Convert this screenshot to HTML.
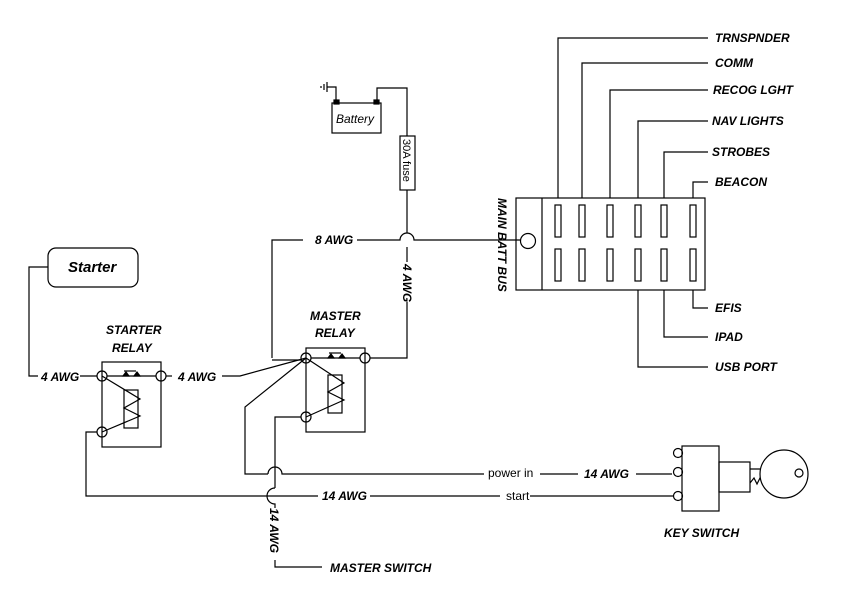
<!DOCTYPE html>
<html><head><style>
html,body{margin:0;padding:0;background:#fff;}
svg{display:block;}
text{font-family:"Liberation Sans",sans-serif;fill:#000;}
.b{font-weight:bold;font-style:italic;font-size:12px;}
</style></head><body>
<svg width="852" height="604" viewBox="0 0 852 604" xmlns="http://www.w3.org/2000/svg" fill="none" stroke="#000" stroke-width="1.2">
<g>
<polyline points="558,198 558,38 708,38"/>
<polyline points="582,198 582,63 708,63"/>
<polyline points="610,198 610,90 708,90"/>
<polyline points="638,198 638,121 708,121"/>
<polyline points="664,198 664,152 708,152"/>
<polyline points="693,198 693,182 708,182"/>
<polyline points="693,290 693,308 708,308"/>
<polyline points="664,290 664,337 708,337"/>
<polyline points="638,290 638,367 708,367"/>
</g>
<g stroke="none">
<text class="b" x="715" y="42">TRNSPNDER</text>
<text class="b" x="715" y="67">COMM</text>
<text class="b" x="713" y="94">RECOG LGHT</text>
<text class="b" x="712" y="125">NAV LIGHTS</text>
<text class="b" x="712" y="156">STROBES</text>
<text class="b" x="715" y="186">BEACON</text>
<text class="b" x="715" y="312">EFIS</text>
<text class="b" x="715" y="341">IPAD</text>
<text class="b" x="715" y="371">USB PORT</text>
</g>
<rect x="516" y="198" width="189" height="92"/>
<line x1="542" y1="198" x2="542" y2="290"/>
<circle cx="528" cy="241" r="7.5"/>
<g>
<rect x="555" y="205" width="6" height="32"/><rect x="579" y="205" width="6" height="32"/><rect x="607" y="205" width="6" height="32"/><rect x="635" y="205" width="6" height="32"/><rect x="661" y="205" width="6" height="32"/><rect x="690" y="205" width="6" height="32"/>
<rect x="555" y="249" width="6" height="32"/><rect x="579" y="249" width="6" height="32"/><rect x="607" y="249" width="6" height="32"/><rect x="635" y="249" width="6" height="32"/><rect x="661" y="249" width="6" height="32"/><rect x="690" y="249" width="6" height="32"/>
</g>
<text class="b" stroke="none" transform="translate(498,198) rotate(90)">MAIN BATT BUS</text>
<polyline points="272,358 272,240 303,240"/>
<path d="M357,240 L400,240 A7,7 0 0 1 414,240 L520,240"/>
<text class="b" stroke="none" x="315" y="244">8 AWG</text>
<rect x="332" y="103" width="49" height="30"/>
<rect x="334" y="100" width="5" height="4" fill="#000"/>
<rect x="374" y="100" width="5" height="4" fill="#000"/>
<polyline points="336,100 336,87 327,87"/>
<line x1="327" y1="82" x2="327" y2="92"/><line x1="324" y1="84" x2="324" y2="90"/><line x1="321" y1="86" x2="321" y2="88"/>
<polyline points="377,100 377,88 407,88 407,136"/>
<rect x="400" y="136" width="15" height="54"/>
<text stroke="none" x="336" y="123" font-size="12" font-style="italic">Battery</text>
<text stroke="none" font-size="11" transform="translate(403,139) rotate(90)">30A fuse</text>
<polyline points="407,190 407,233"/>
<polyline points="407,247 407,262"/>
<polyline points="407,302 407,358 370,358"/>
<text class="b" stroke="none" transform="translate(403,264) rotate(90)">4 AWG</text>
<rect x="306" y="348" width="59" height="84"/>
<circle cx="306" cy="358" r="5"/><circle cx="365" cy="358" r="5"/><circle cx="306" cy="417" r="5"/>
<text class="b" stroke="none" x="310" y="320">MASTER</text>
<text class="b" stroke="none" x="315" y="337">RELAY</text>
<line x1="272" y1="360" x2="301" y2="360"/>
<line x1="311" y1="358" x2="360" y2="358"/>
<line x1="329" y1="353" x2="341" y2="353"/>
<path d="M328,358 L331,354 L334,358Z M339,358 L342,354 L345,358Z" fill="#000"/>
<rect x="328" y="375" width="14" height="38"/>
<polyline points="306,358 344,383 328,392 344,400 306,417"/>
<polyline points="306,358 245,407 245,474 268,474"/>
<path d="M268,474 A7,7 0 0 1 282,474 L672,474"/>
<polyline points="306,358 240,376 222,376"/>
<polyline points="301,417 275,417 275,488"/>
<path d="M275,488 A8,8 0 0 0 275,504 L275,508"/>
<polyline points="275,560 275,567 322,567"/>
<text class="b" stroke="none" transform="translate(270,508) rotate(90)">14 AWG</text>
<text class="b" stroke="none" x="330" y="572">MASTER SWITCH</text>
<rect x="48" y="248" width="90" height="39" rx="8"/>
<text stroke="none" x="68" y="272" font-size="15" font-weight="bold" font-style="italic">Starter</text>
<polyline points="48,267 29,267 29,376 38,376"/>
<text class="b" stroke="none" x="41" y="381">4 AWG</text>
<line x1="80" y1="376" x2="97" y2="376"/>
<rect x="102" y="362" width="59" height="85"/>
<circle cx="102" cy="376" r="5"/><circle cx="161" cy="376" r="5"/><circle cx="102" cy="432" r="5"/>
<text class="b" stroke="none" x="106" y="334">STARTER</text>
<text class="b" stroke="none" x="112" y="352">RELAY</text>
<line x1="107" y1="376" x2="156" y2="376"/>
<line x1="124" y1="371" x2="136" y2="371"/>
<path d="M123,376 L126,372 L129,376Z M134,376 L137,372 L140,376Z" fill="#000"/>
<rect x="124" y="390" width="14" height="38"/>
<polyline points="102,376 140,399 124,408 140,416 102,432"/>
<line x1="166" y1="376" x2="172" y2="376"/>
<text class="b" stroke="none" x="178" y="381">4 AWG</text>
<polyline points="97,432 86,432 86,496 318,496"/>
<line x1="370" y1="496" x2="500" y2="496"/>
<line x1="530" y1="496" x2="673" y2="496"/>
<text class="b" stroke="none" x="322" y="500">14 AWG</text>
<text stroke="none" x="506" y="500" font-size="12">start</text>
<rect x="484" y="464" width="56" height="16" fill="#fff" stroke="none"/>
<text stroke="none" x="488" y="477" font-size="12">power in</text>
<rect x="578" y="466" width="58" height="14" fill="#fff" stroke="none"/>
<text class="b" stroke="none" x="584" y="478">14 AWG</text>
<rect x="682" y="446" width="37" height="65"/>
<circle cx="678" cy="453" r="4.5"/><circle cx="678" cy="472" r="4.5"/><circle cx="678" cy="496" r="4.5"/>
<rect x="719" y="462" width="31" height="30"/>
<line x1="750" y1="469" x2="770" y2="469"/>
<polyline points="750,483 754,478 757,484 760,478 763,484 767,480 772,482"/>
<circle cx="784" cy="474" r="24" fill="#fff"/>
<circle cx="799" cy="473" r="4"/>
<text class="b" stroke="none" x="664" y="537">KEY SWITCH</text>
</svg>
</body></html>
